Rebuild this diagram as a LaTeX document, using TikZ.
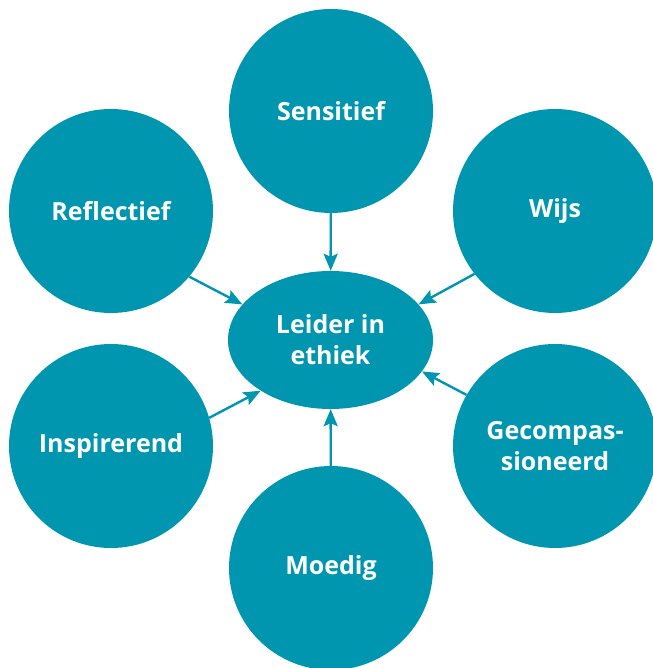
\documentclass[tikz,border=0pt]{standalone}
\usepackage{fontspec}
\setmainfont{Open Sans}
\usepackage{xcolor}
\usepackage{tikz}
\usetikzlibrary{arrows.meta,shapes}

\definecolor{leidteal}{HTML}{0096B0}

\tikzset{
  trait/.style={circle, fill=leidteal, text=white, font=\bfseries\fontsize{25}{31}\selectfont,
    minimum size=204pt, inner sep=0pt, align=center},
  kern/.style={ellipse, fill=leidteal, text=white, font=\bfseries\fontsize{25}{31}\selectfont,
    minimum width=205pt, minimum height=138pt, inner sep=0pt, align=center},
  pijl/.style={-{Stealth[length=17pt,width=14pt,inset=3pt]}, line width=2.4pt, draw=leidteal}
}

\begin{document}
\begin{tikzpicture}[x=1pt,y=1pt]
            \useasboundingbox (0,0) rectangle (652,668);
            \node[kern] (leider) at (330.5,328) {Leider in\\ethiek};
            \node[trait] (sensitief) at (331,557) {Sensitief};
            \node[trait] (reflectief) at (111,457) {Reflectief};
            \node[trait] (wijs) at (555,457) {Wijs};
            \node[trait] (inspirerend) at (111,222) {Inspirerend};
            \node[trait] (gecomp) at (555,222) {Gecompas-\\sioneerd};
            \node[trait] (moedig) at (331,100) {Moedig};
            
            \draw[pijl] (sensitief) -- (leider);
            \draw[pijl] (reflectief.-40) -- (leider.158);
            \draw[pijl] (wijs.218) -- (leider.22);
            \draw[pijl] (inspirerend.16) -- (leider.216);
            \draw[pijl] (gecomp.150) -- (leider.-19);
            \draw[pijl] (moedig) -- (leider);
        \end{tikzpicture}
\end{document}
